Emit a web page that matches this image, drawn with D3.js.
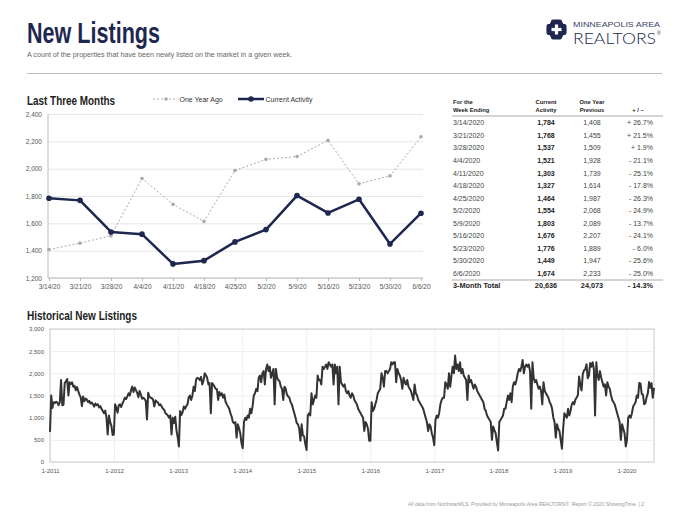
<!DOCTYPE html>
<html>
<head>
<meta charset="utf-8">
<script src="https://cdn.jsdelivr.net/npm/d3@7"></script>
<style>
  body { margin: 0; background: #fff; }
  svg { display: block; font-family: "Liberation Sans", Arial, Helvetica, sans-serif; }
</style>
</head>
<body>
<svg id="chart" width="680" height="517"></svg>
<script>
// last three months (weeks ending)
var weekLabels = ['3/14/20', '3/21/20', '3/28/20', '4/4/20', '4/11/20', '4/18/20', '4/25/20',
                  '5/2/20', '5/9/20', '5/16/20', '5/23/20', '5/30/20', '6/6/20'];
var currentActivity = [1784, 1768, 1537, 1521, 1303, 1327, 1464, 1554, 1803, 1676, 1776, 1449, 1674];
var oneYearAgo = [1408, 1455, 1509, 1928, 1739, 1614, 1987, 2068, 2089, 2207, 1889, 1947, 2233];
var pctChange = [26.7, 21.5, 1.9, -21.1, -25.1, -17.8, -26.3, -24.9, -13.7, -24.1, -6.0, -25.6, -25.0];
var totals = { current: 20636, previous: 24073, change: -14.3 };
var yTicksTop = [1200, 1400, 1600, 1800, 2000, 2200, 2400];

// historical weekly new listings, one array per year (weeks ending Saturday)
var h2011 = [680,1500,1220,1350,1330,1360,1340,1280,1350,1850, 1280,1290,1780,1820,1870,1500,1800,1760,1800,1700,
             1720,1620,1690,1600,1520,1460,1260,1480,1370,1430, 1410,1350,1380,1320,1340,1300,1250,1320,1280,1300,
             1230,1260,1200,1150,1100,1160,1000,620,1050,900, 820,610,620];
var h2012 = [1300,1230,1110,1280,1300,1240,1320,1380,1450,1420, 1480,1550,1500,1620,1700,1580,1680,1620,1560,1460,
             1600,1520,1430,1450,1420,1380,960,1560,1470,1450, 1440,1400,1250,1390,1360,1340,1280,1300,1250,1200,
             1180,1100,1080,1050,1000,1050,620,1000,880,1020, 720,560];
var h2013 = [350,1150,1060,1120,1250,1200,1260,1300,1460,1500, 1400,1500,1700,1600,1860,1900,1880,1850,1920,1750,
             1830,2000,1960,1900,1750,1780,1100,1780,1750,1700, 1650,1640,1400,1580,1500,1550,1450,1520,1360,1300,
             1250,1200,1100,1020,900,870,900,550,850,760, 650,420];
var h2014 = [310,900,1000,950,1050,1000,1200,1100,1250,1500, 1550,1650,1600,1900,1950,1800,2000,2050,1750,2100,
             2200,2050,2150,1900,2000,2100,1300,2100,1900,1850, 1820,1700,1650,1400,1700,1650,1520,1480,1450,1350,
             1300,1200,1100,1000,880,850,750,480,850,600, 580,400];
var h2015 = [270,1050,1100,1050,1550,1300,1400,1500,1450,1950, 1850,1850,1750,2150,2100,2150,2200,2100,2250,2200,
             2150,2200,1750,2200,2000,2150,1300,2150,1800,1750, 1700,1750,1600,1550,1600,1500,1450,1550,1500,1400,
             1350,1300,1200,1150,1100,1050,1000,700,900,850, 750,480];
var h2016 = [480,1350,1150,1200,1300,1400,1550,1600,1650,2000, 1900,1700,2050,2050,2000,2050,2100,2250,2200,2250,
             2250,1800,2100,2000,1950,1850,1650,1900,1800,1750, 1850,1700,1650,1600,1500,1400,1750,1550,1500,1400,
             1350,1300,1250,1200,1100,1000,900,700,850,800, 650,550,380];
var h2017 = [950,1050,1000,1100,1300,1400,1450,1450,1800,1750, 1650,2000,1700,1950,2150,2000,2400,2100,2200,2050,
             2250,2000,2100,1950,1900,1850,1400,1950,1800,1850, 1750,1650,1750,1700,1600,1550,1500,1450,1400,1350,
             1200,1150,1050,1000,950,900,500,800,720,650, 450,260];
var h2018 = [900,950,1000,1050,1200,1200,1350,1500,1400,1550, 1350,1700,1800,1750,1850,2000,2100,2050,2150,2300,
             2000,2150,2200,2150,2200,2050,1200,2250,1900,1800, 1850,1750,1650,1700,1600,1300,1800,1600,1550,1500,
             1450,1350,1300,1200,1000,900,550,850,750,700, 500,300];
var h2019 = [750,1100,1050,1000,1200,1050,1150,1300,1350,1300, 1408,1455,1509,1928,1739,1614,1987,2068,2089,2207,
             1889,1947,2233,2150,2250,2100,1050,2250,1950,1850, 2050,1900,1800,1700,1750,1500,1800,1700,1650,1500,
             1400,1350,1300,1200,1100,1000,900,500,850,750, 650,350];
var h2020 = [500,1000,1050,1000,1100,1250,1300,1350,1500,1450,
             1784,1768,1537,1521,1303,1327,1464,1554,1803,1676,1776,1449,1674];
var histYears = [2011, 2012, 2013, 2014, 2015, 2016, 2017, 2018, 2019, 2020];
var histValues = [h2011, h2012, h2013, h2014, h2015, h2016, h2017, h2018, h2019, h2020];
var yTicksHist = [0, 500, 1000, 1500, 2000, 2500, 3000];

var navy = '#1d2750';
var fmt = d3.format(',');
var svg = d3.select('#chart');

function squish(sel, w) {
  return sel.attr('textLength', w).attr('lengthAdjust', 'spacingAndGlyphs');
}

// ---- header
svg.append('text').attr('x', 27).attr('y', 43)
  .attr('font-size', 29).attr('font-weight', 'bold').attr('fill', navy)
  .call(squish, 133).text('New Listings');
svg.append('text').attr('x', 27).attr('y', 56.5)
  .attr('font-size', 7).attr('fill', '#666')
  .call(squish, 265)
  .text('A count of the properties that have been newly listed on the market in a given week.');
svg.append('line').attr('x1', 27).attr('x2', 662).attr('y1', 73.5).attr('y2', 73.5)
  .attr('stroke', '#bdbdbd').attr('stroke-width', 1);

// logo
var logo = svg.append('g').attr('transform', 'translate(556.5,29.5)');
logo.append('rect').attr('x', -10).attr('y', -5.5).attr('width', 20).attr('height', 11).attr('rx', 2).attr('fill', navy);
logo.append('rect').attr('x', -5.5).attr('y', -10).attr('width', 11).attr('height', 20).attr('rx', 2).attr('fill', navy);
logo.append('path').attr('d', 'M-10,0L-5.5,-8L5.5,-8L10,0L5.5,8L-5.5,8Z').attr('fill', navy);
logo.append('rect').attr('x', -5).attr('y', -1.6).attr('width', 10).attr('height', 3.2).attr('fill', '#fff');
logo.append('rect').attr('x', -1.6).attr('y', -5).attr('width', 3.2).attr('height', 10).attr('fill', '#fff');
svg.append('text').attr('x', 573).attr('y', 27).attr('font-size', 8).attr('fill', '#3a4566')
  .call(squish, 87).text('MINNEAPOLIS AREA');
svg.append('text').attr('x', 573).attr('y', 43.5).attr('font-size', 15).attr('font-weight', 300)
  .attr('font-family', 'Lato, "Open Sans", sans-serif').attr('fill', navy)
  .call(squish, 83).text('REALTORS');
svg.append('text').attr('x', 657).attr('y', 35).attr('font-size', 5).attr('fill', navy).text('®');

// ---- last three months chart
svg.append('text').attr('x', 27).attr('y', 105)
  .attr('font-size', 13).attr('font-weight', 'bold').attr('fill', '#222')
  .call(squish, 88).text('Last Three Months');

var tx = d3.scalePoint().domain(weekLabels).range([49, 421]);
var ty = d3.scaleLinear().domain([1200, 2400]).range([278, 114]);

var gTop = svg.append('g');
gTop.append('g').attr('transform', 'translate(48,0)')
  .call(d3.axisLeft(ty).tickValues(yTicksTop).tickSize(-375).tickPadding(6).tickFormat(fmt))
  .call(g => g.select('.domain').remove())
  .call(g => g.selectAll('line').attr('stroke', '#e6e6e6'))
  .call(g => g.selectAll('text').attr('font-size', 6.5).attr('fill', '#555')
    .attr('font-family', '"Liberation Sans", Arial, sans-serif'));
gTop.append('line').attr('x1', 48).attr('x2', 48).attr('y1', 114).attr('y2', 278).attr('stroke', '#bbb');
gTop.append('g').attr('transform', 'translate(0,278)')
  .call(d3.axisBottom(tx).tickSize(3).tickPadding(3))
  .call(g => g.select('.domain').attr('d', 'M48,0H423').attr('stroke', '#bbb'))
  .call(g => g.selectAll('line').attr('stroke', '#bbb'))
  .call(g => g.selectAll('text').attr('font-size', 6.5).attr('fill', '#555')
    .attr('font-family', '"Liberation Sans", Arial, sans-serif'));

var lineTop = d3.line().x((d, i) => tx(weekLabels[i])).y(d => ty(d));

gTop.append('path').datum(oneYearAgo).attr('d', lineTop)
  .attr('fill', 'none').attr('stroke', '#aaa').attr('stroke-width', 1).attr('stroke-dasharray', '2,2');
gTop.selectAll('circle.prev').data(oneYearAgo).enter().append('circle')
  .attr('class', 'prev').attr('cx', (d, i) => tx(weekLabels[i])).attr('cy', d => ty(d))
  .attr('r', 1.8).attr('fill', '#aaa');

gTop.append('path').datum(currentActivity).attr('d', lineTop)
  .attr('fill', 'none').attr('stroke', navy).attr('stroke-width', 2.5).attr('stroke-linejoin', 'round');
gTop.selectAll('circle.cur').data(currentActivity).enter().append('circle')
  .attr('class', 'cur').attr('cx', (d, i) => tx(weekLabels[i])).attr('cy', d => ty(d))
  .attr('r', 2.8).attr('fill', navy);

// legend
var lg = svg.append('g').attr('font-size', 7).attr('fill', '#333');
lg.append('line').attr('x1', 153).attr('x2', 178).attr('y1', 99).attr('y2', 99)
  .attr('stroke', '#aaa').attr('stroke-dasharray', '2,2');
lg.append('circle').attr('cx', 166).attr('cy', 99).attr('r', 1.8).attr('fill', '#aaa');
lg.append('text').attr('x', 179.5).attr('y', 101.5).text('One Year Ago');
lg.append('line').attr('x1', 238).attr('x2', 264).attr('y1', 99).attr('y2', 99)
  .attr('stroke', navy).attr('stroke-width', 2.5);
lg.append('circle').attr('cx', 251).attr('cy', 99).attr('r', 2.8).attr('fill', navy);
lg.append('text').attr('x', 265.5).attr('y', 101.5).text('Current Activity');

// ---- table
var tb = svg.append('g').attr('fill', '#333');
var colDate = 453, colCur = 546, colPrev = 592, colChg = 653;
var rowY0 = 125.3, rowH = 12.55;

function pct(v) {
  return (v >= 0 ? '+ ' : '- ') + Math.abs(v).toFixed(1) + '%';
}

var hdr = tb.append('g').attr('font-size', 5.8).attr('font-weight', 'bold').attr('fill', '#222');
hdr.append('text').attr('x', colDate).attr('y', 104).text('For the');
hdr.append('text').attr('x', colDate).attr('y', 112.3).text('Week Ending');
hdr.append('text').attr('x', colCur).attr('y', 104).attr('text-anchor', 'middle').text('Current');
hdr.append('text').attr('x', colCur).attr('y', 112.3).attr('text-anchor', 'middle').text('Activity');
hdr.append('text').attr('x', colPrev).attr('y', 104).attr('text-anchor', 'middle').text('One Year');
hdr.append('text').attr('x', colPrev).attr('y', 112.3).attr('text-anchor', 'middle').text('Previous');
hdr.append('text').attr('x', 638).attr('y', 112.3).attr('text-anchor', 'middle').text('+ / –');
tb.append('line').attr('x1', 452).attr('x2', 663).attr('y1', 116).attr('y2', 116)
  .attr('stroke', '#aaa').attr('stroke-width', 1.2);

var rows = tb.selectAll('g.row').data(weekLabels).enter().append('g')
  .attr('class', 'row').attr('font-size', 7)
  .attr('transform', (d, i) => 'translate(0,' + (rowY0 + i * rowH) + ')');
rows.append('text').attr('x', colDate).attr('fill', '#444').text(d => d.replace(/\/20$/, '/2020'));
rows.append('text').attr('x', colCur).attr('text-anchor', 'middle').attr('font-weight', 'bold').attr('fill', '#222')
  .text((d, i) => fmt(currentActivity[i]));
rows.append('text').attr('x', colPrev).attr('text-anchor', 'middle').attr('fill', '#444')
  .text((d, i) => fmt(oneYearAgo[i]));
rows.append('text').attr('x', colChg).attr('text-anchor', 'end').attr('fill', '#444')
  .text((d, i) => pct(pctChange[i]));

tb.append('line').attr('x1', 452).attr('x2', 663).attr('y1', 280).attr('y2', 280)
  .attr('stroke', '#aaa').attr('stroke-width', 1.2);
var tot = tb.append('g').attr('font-size', 7.3).attr('font-weight', 'bold').attr('fill', '#222')
  .attr('transform', 'translate(0,288.3)');
tot.append('text').attr('x', colDate).text('3-Month Total');
tot.append('text').attr('x', colCur).attr('text-anchor', 'middle').text(fmt(totals.current));
tot.append('text').attr('x', colPrev).attr('text-anchor', 'middle').text(fmt(totals.previous));
tot.append('text').attr('x', colChg).attr('text-anchor', 'end').text(pct(totals.change));

// ---- historical chart
svg.append('text').attr('x', 27).attr('y', 320)
  .attr('font-size', 13).attr('font-weight', 'bold').attr('fill', '#222')
  .call(squish, 110).text('Historical New Listings');

var series = [];
histYears.forEach(function (y, k) {
  var sats = d3.timeSaturdays(new Date(y, 0, 1), new Date(y + 1, 0, 1));
  histValues[k].forEach(function (v, j) {
    series.push({ date: sats[j], value: v });
  });
});

var hx = d3.scaleTime().domain([new Date(2011, 0, 1), new Date(2020, 5, 6)]).range([50, 654]);
var hy = d3.scaleLinear().domain([0, 3000]).range([462, 329]);

var gH = svg.append('g');
gH.append('g').attr('transform', 'translate(50,0)')
  .call(d3.axisLeft(hy).tickValues(yTicksHist).tickSize(-604).tickPadding(6).tickFormat(fmt))
  .call(g => g.select('.domain').remove())
  .call(g => g.selectAll('line').attr('stroke', '#eeeeee'))
  .call(g => g.selectAll('text').attr('font-size', 6).attr('fill', '#555')
    .attr('font-family', '"Liberation Sans", Arial, sans-serif'));
gH.append('g').attr('transform', 'translate(0,462)')
  .call(d3.axisBottom(hx).ticks(d3.timeYear.every(1)).tickSize(-133).tickPadding(7)
    .tickFormat(d3.timeFormat('1-%Y')))
  .call(g => g.select('.domain').remove())
  .call(g => g.selectAll('line').attr('stroke', '#eeeeee'))
  .call(g => g.selectAll('text').attr('font-size', 6).attr('fill', '#555')
    .attr('font-family', '"Liberation Sans", Arial, sans-serif'));
gH.append('rect').attr('x', 50).attr('y', 329).attr('width', 604).attr('height', 133)
  .attr('fill', 'none').attr('stroke', '#cccccc');

gH.append('path').datum(series)
  .attr('d', d3.line().x(d => hx(d.date)).y(d => hy(d.value)))
  .attr('fill', 'none').attr('stroke', '#333').attr('stroke-width', 2).attr('stroke-linejoin', 'round');

// ---- footer
svg.append('text').attr('x', 408).attr('y', 506).attr('font-size', 5).attr('fill', '#999')
  .call(squish, 236)
  .text('All data from NorthstarMLS. Provided by Minneapolis Area REALTORS®. Report © 2020 ShowingTime.  |  2');
</script>
</body>
</html>
